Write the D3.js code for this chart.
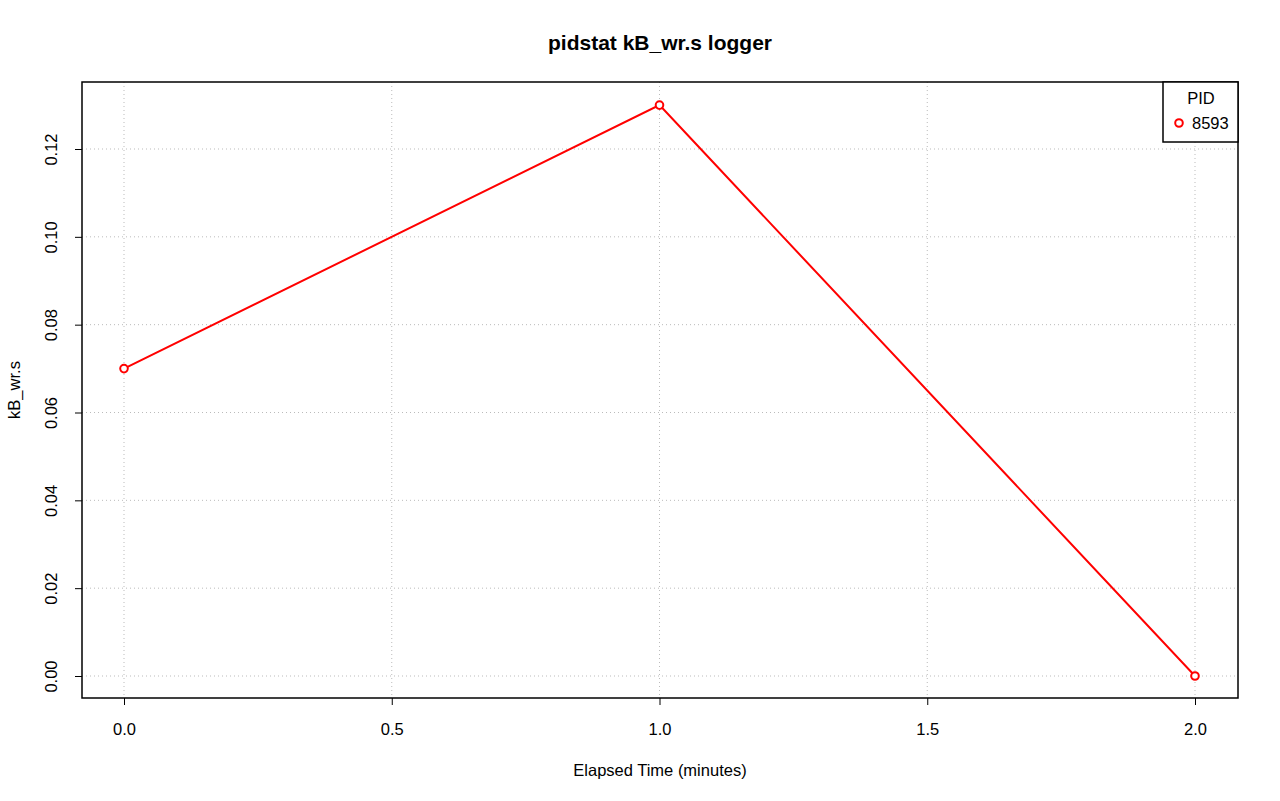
<!DOCTYPE html>
<meta charset="utf-8">
<title>pidstat kB_wr.s logger</title>
<style>
body { margin: 0; background: white; }
svg, svg text { font-family: "Liberation Sans", Arial, sans-serif; }
</style>
<body>
<script src="https://cdn.jsdelivr.net/npm/d3@7"></script>
<script>
// data
const elapsed = [0, 1, 2];
const kbWr = [0.07, 0.13, 0.00];
const pids = ["8593"];
const xTicks = [0, 0.5, 1, 1.5, 2];
const yTicks = [0, 0.02, 0.04, 0.06, 0.08, 0.10, 0.12];

const width = 1280, height = 801;
const box = {left: 82, right: 1238, top: 82, bottom: 698};
const fs = "16.5px";

const svg = d3.select("body").append("svg")
    .attr("width", width)
    .attr("height", height);

const x = d3.scaleLinear().domain([0, 2]).range([124, 1195]);
const y = d3.scaleLinear().domain([0, 0.12]).range([676, 149]);

// grid
svg.append("g").selectAll("line").data(xTicks).join("line")
    .attr("x1", d => x(d)).attr("x2", d => x(d))
    .attr("y1", box.top).attr("y2", box.bottom)
    .attr("stroke", "#bbbbbb").attr("stroke-dasharray", "1,3");
svg.append("g").selectAll("line").data(yTicks).join("line")
    .attr("y1", d => y(d)).attr("y2", d => y(d))
    .attr("x1", box.left).attr("x2", box.right)
    .attr("stroke", "#bbbbbb").attr("stroke-dasharray", "1,3");

// axes
const xAxis = svg.append("g")
    .attr("transform", "translate(0," + box.bottom + ")")
    .call(d3.axisBottom(x).tickValues(xTicks).tickSize(7)
      .tickFormat(d3.format(".1f")));
xAxis.select(".domain").remove();
xAxis.attr("font-family", null).attr("font-size", null);
xAxis.selectAll("line").attr("stroke", "black");
xAxis.selectAll("text")
    .style("font-size", fs).attr("fill", "black")
    .attr("dy", null).attr("y", 37);

const yAxis = svg.append("g")
    .attr("transform", "translate(" + box.left + ",0)")
    .call(d3.axisLeft(y).tickValues(yTicks).tickSize(7)
      .tickFormat(d3.format(".2f")));
yAxis.select(".domain").remove();
yAxis.attr("font-family", null).attr("font-size", null);
yAxis.selectAll("line").attr("stroke", "black");
yAxis.selectAll("text")
    .style("font-size", fs).attr("fill", "black")
    .attr("x", null).attr("dy", null)
    .attr("text-anchor", "middle")
    .attr("transform", "translate(-25,0) rotate(-90)")
    .attr("y", 0);

// plot frame
svg.append("rect")
    .attr("x", box.left).attr("y", box.top)
    .attr("width", box.right - box.left).attr("height", box.bottom - box.top)
    .attr("fill", "none").attr("stroke", "black").attr("stroke-width", 1.5);

// series
const pts = elapsed.map((t, i) => [t, kbWr[i]]);
svg.append("path")
    .datum(pts)
    .attr("fill", "none")
    .attr("stroke", "red")
    .attr("stroke-width", 2)
    .attr("d", d3.line().x(d => x(d[0])).y(d => y(d[1])));
svg.append("g").selectAll("circle").data(pts).join("circle")
    .attr("cx", d => x(d[0])).attr("cy", d => y(d[1]))
    .attr("r", 3.8)
    .attr("fill", "white").attr("stroke", "red").attr("stroke-width", 2);

// titles
svg.append("text")
    .attr("x", 660).attr("y", 50)
    .attr("text-anchor", "middle")
    .style("font-size", "21px").style("font-weight", "bold")
    .text("pidstat kB_wr.s logger");
svg.append("text")
    .attr("x", 660).attr("y", 776)
    .attr("text-anchor", "middle")
    .style("font-size", fs)
    .text("Elapsed Time (minutes)");
svg.append("text")
    .attr("transform", "translate(20,390) rotate(-90)")
    .attr("text-anchor", "middle")
    .style("font-size", fs)
    .text("kB_wr.s");

// legend
const leg = svg.append("g");
leg.append("rect")
    .attr("x", 1163).attr("y", box.top)
    .attr("width", box.right - 1163).attr("height", 60)
    .attr("fill", "white").attr("stroke", "black").attr("stroke-width", 1.5);
leg.append("text")
    .attr("x", 1201).attr("y", 104)
    .attr("text-anchor", "middle")
    .style("font-size", fs)
    .text("PID");
pids.forEach((p, i) => {
  leg.append("circle")
      .attr("cx", 1179).attr("cy", 123 + i * 18).attr("r", 3.8)
      .attr("fill", "white").attr("stroke", "red").attr("stroke-width", 2);
  leg.append("text")
      .attr("x", 1192).attr("y", 129 + i * 18)
      .style("font-size", fs)
      .text(p);
});
</script>
</body>
